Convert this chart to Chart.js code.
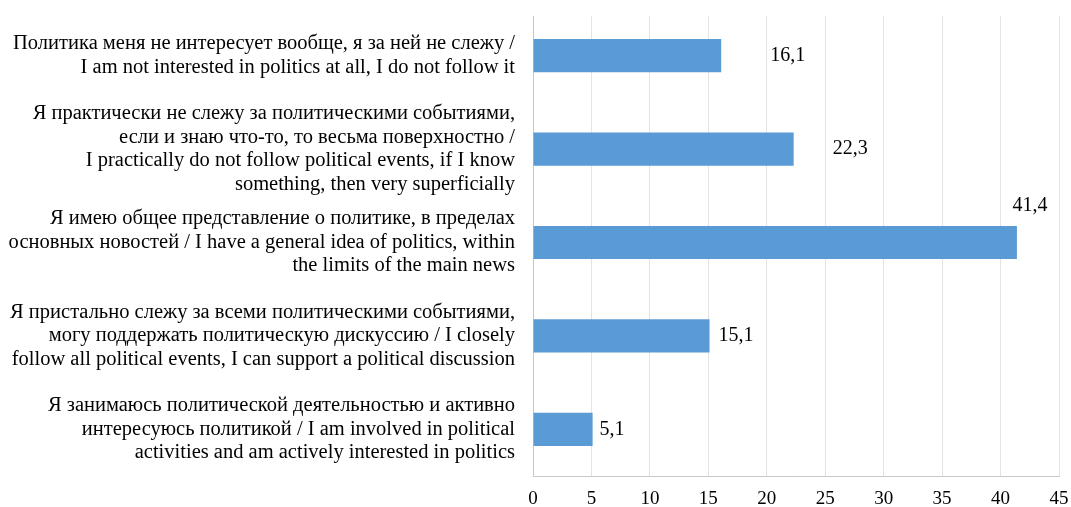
<!DOCTYPE html>
<html>
<head>
<meta charset="utf-8">
<script src="https://cdn.jsdelivr.net/npm/chart.js@4.4.1/dist/chart.umd.min.js"></script>
<style>
  html, body { margin: 0; padding: 0; background: #ffffff; }
  #wrap { width: 1071px; height: 507px; position: relative; }
</style>
</head>
<body>
<div id="wrap"><canvas id="chart"></canvas></div>
<script>
// Answer options (each as its lines of text)
const categories = [
  ["Политика меня не интересует вообще, я за ней не слежу /", "I am not interested in politics at all, I do not follow it"],
  ["Я практически не слежу за политическими событиями,", "если и знаю что-то, то весьма поверхностно /", "I practically do not follow political events, if I know", "something, then very superficially"],
  ["Я имею общее представление о политике, в пределах", "основных новостей / I have a general idea of politics, within", "the limits of the main news"],
  ["Я пристально слежу за всеми политическими событиями,", "могу поддержать политическую дискуссию / I closely", "follow all political events, I can support a political discussion"],
  ["Я занимаюсь политической деятельностью и активно", "интересуюсь политикой / I am involved in political", "activities and am actively interested in politics"]
];
// Share of respondents, %
const values = [16.1, 22.3, 41.4, 15.1, 5.1];
// Value axis ticks
const xTicks = [0, 5, 10, 15, 20, 25, 30, 35, 40, 45];

// Where each value label sits relative to its bar end (px);
// "above" labels are centred over that point, the rest start there
const labelShift = [
  { dx: 49, dy: 0, above: false },
  { dx: 39, dy: 0, above: false },
  { dx: 13, dy: -37, above: true },
  { dx: 9, dy: 0, above: false },
  { dx: 7, dy: 0, above: false }
];

const serif = "'Liberation Serif', 'Times New Roman', serif";

// Gridlines and the category axis line start a little below the top of the plot
const gridTop = {
  id: 'gridTop',
  beforeDatasetsDraw(chart) {
    const { ctx, chartArea } = chart;
    ctx.save();
    ctx.fillStyle = '#ffffff';
    ctx.fillRect(chartArea.left - 2, 0, chartArea.right - chartArea.left + 4, 16);
    ctx.restore();
  }
};

const valueLabels = {
  id: 'valueLabels',
  afterDatasetsDraw(chart) {
    const ctx = chart.ctx;
    const meta = chart.getDatasetMeta(0);
    ctx.save();
    ctx.font = "20px " + serif;
    ctx.fillStyle = "#000000";
    ctx.textBaseline = "middle";
    meta.data.forEach((bar, i) => {
      const txt = values[i].toFixed(1).replace('.', ',');
      const s = labelShift[i];
      ctx.textAlign = s.above ? "center" : "left";
      ctx.fillText(txt, bar.x + s.dx, bar.y + s.dy);
    });
    ctx.restore();
  }
};

new Chart(document.getElementById('chart'), {
  type: 'bar',
  data: {
    labels: categories,
    datasets: [{
      data: values,
      backgroundColor: '#5b9bd5',
      borderWidth: 0,
      categoryPercentage: 1,
      barPercentage: 0.355
    }]
  },
  options: {
    indexAxis: 'y',
    responsive: true,
    maintainAspectRatio: false,
    animation: false,
    layout: { padding: { top: 9, right: 12, bottom: 0, left: 0 } },
    plugins: { legend: { display: false }, tooltip: { enabled: false } },
    scales: {
      x: {
        min: 0,
        max: 45,
        afterBuildTicks(axis) { axis.ticks = xTicks.map(v => ({ value: v })); },
        afterFit(axis) {
          axis.height = 31;
          axis.paddingLeft = 0;
          axis.paddingRight = 0;
        },
        grid: { color: '#e3e3e3', lineWidth: 1, drawTicks: false },
        border: { display: true, color: '#c8c8c8', width: 1 },
        ticks: {
          color: '#000000',
          font: { family: serif, size: 19 },
          padding: 12,
          maxRotation: 0,
          autoSkip: false
        }
      },
      y: {
        afterFit(axis) {
          axis.width = 533;
          axis.paddingTop = 0;
          axis.paddingBottom = 0;
        },
        grid: { display: false, drawTicks: false },
        border: { display: true, color: '#c8c8c8', width: 1 },
        ticks: {
          color: '#000000',
          font: { family: serif, size: 20.5, lineHeight: 1.146 },
          padding: 18,
          autoSkip: false
        }
      }
    }
  },
  plugins: [gridTop, valueLabels]
});
</script>
</body>
</html>
